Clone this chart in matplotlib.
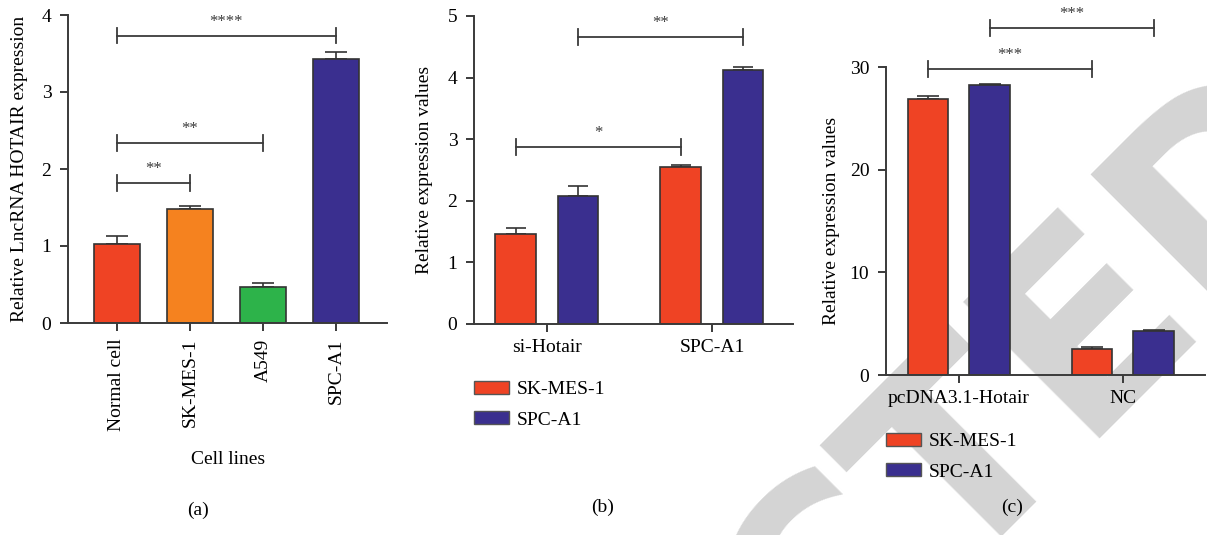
import numpy as np
import matplotlib
matplotlib.use("Agg")
import matplotlib.pyplot as plt
from matplotlib.patches import Patch

# ---- data ----
cell_lines = ["Normal cell", "SK-MES-1", "A549", "SPC-A1"]
cell_expr = [1.03, 1.48, 0.47, 3.43]
cell_err = [0.10, 0.04, 0.05, 0.09]

b_groups = ["si-Hotair", "SPC-A1"]
b_skmes = [1.46, 2.55]
b_skmes_err = [0.10, 0.03]
b_spca1 = [2.08, 4.13]
b_spca1_err = [0.16, 0.04]

c_groups = ["pcDNA3.1-Hotair", "NC"]
c_skmes = [26.9, 2.55]
c_skmes_err = [0.25, 0.15]
c_spca1 = [28.2, 4.3]
c_spca1_err = [0.10, 0.10]

series_names = ["SK-MES-1", "SPC-A1"]

RED = "#ef4324"
ORANGE = "#f5821f"
GREEN = "#2db34a"
BLUE = "#3a2f8f"
EDGE = "#333333"
DARK = "#3a3a3a"

plt.rcParams["font.family"] = ["Liberation Serif", "DejaVu Serif"]
plt.rcParams["font.size"] = 14

W, H = 1207, 535
fig = plt.figure(figsize=(W / 100, H / 100), dpi=100)

# watermark behind everything
fig.text(126 / W, (H - 1388) / H, "RETRACTED", fontsize=190, family="DejaVu Sans",
         weight="bold", color="#d4d4d4", rotation=45, rotation_mode="anchor",
         ha="left", va="baseline", zorder=-5)


def px_axes(left, right, y0, ytop):
    return fig.add_axes([left / W, (H - y0) / H, (right - left) / W, (y0 - ytop) / H])


def style(ax):
    ax.patch.set_alpha(0)
    for s in ["top", "right"]:
        ax.spines[s].set_visible(False)
    for s in ["left", "bottom"]:
        ax.spines[s].set_color(DARK)
        ax.spines[s].set_linewidth(1.4)
    ax.tick_params(direction="out", length=6, width=1.4, color=DARK, labelsize=14, pad=5)
    ax.tick_params(axis="y", pad=6)


def bracket(ax, x1, x2, y, h, stars):
    ax.plot([x1, x2], [y, y], color=DARK, lw=1.3, clip_on=False)
    for x in (x1, x2):
        ax.plot([x, x], [y - h, y + h], color=DARK, lw=1.3, clip_on=False)
    ax.annotate(stars, xy=((x1 + x2) / 2, y), xytext=(0, 10), textcoords="offset points",
                ha="center", va="center", fontsize=12, color=DARK, annotation_clip=False)


def bars(ax, x, vals, errs, colors, width, cap):
    ax.bar(x, vals, width=width, color=colors, edgecolor=EDGE, linewidth=1.2, zorder=2)
    ax.errorbar(x, vals, yerr=[np.zeros(len(vals)), errs], fmt="none", ecolor=EDGE,
                elinewidth=1.2, capsize=cap, capthick=1.2, zorder=1)


# ---- panel (a) ----
ax1 = px_axes(68, 387, 323, 15)
style(ax1)
xa = np.arange(len(cell_lines))
bars(ax1, xa, cell_expr, cell_err, [RED, ORANGE, GREEN, BLUE], 0.64, 8)
ax1.set_xlim(-0.67, 3.7)
ax1.set_ylim(0, 4)
ax1.set_yticks([0, 1, 2, 3, 4])
ax1.set_xticks(xa)
ax1.set_xticklabels(cell_lines, rotation=90)
bracket(ax1, 0, 1, 1.82, 0.1, "**")
bracket(ax1, 0, 2, 2.34, 0.1, "**")
bracket(ax1, 0, 3, 3.73, 0.1, "****")
fig.text(20 / W, 1 - 169 / H, "Relative LncRNA HOTAIR expression", rotation=90,
         ha="center", va="center", fontsize=14)
fig.text(228 / W, 1 - 459 / H, "Cell lines", ha="center", va="center", fontsize=14)
fig.text(198 / W, 1 - 510 / H, "(a)", ha="center", va="center", fontsize=14)

# ---- panel (b) ----
ax2 = px_axes(474, 793, 324, 16)
style(ax2)
xb = np.arange(len(b_groups))
off, bw = 0.188, 0.248
bars(ax2, xb - off, b_skmes, b_skmes_err, RED, bw, 7)
bars(ax2, xb + off, b_spca1, b_spca1_err, BLUE, bw, 7)
ax2.set_xlim(-0.442, 1.491)
ax2.set_ylim(0, 5)
ax2.set_yticks([0, 1, 2, 3, 4, 5])
ax2.set_xticks(xb)
ax2.set_xticklabels(b_groups)
bracket(ax2, 0 - off, 1 - off, 2.87, 0.13, "*")
bracket(ax2, 0 + off, 1 + off, 4.66, 0.13, "**")
fig.text(425 / W, 1 - 170 / H, "Relative expression values", rotation=90,
         ha="center", va="center", fontsize=14)
fig.text(603 / W, 1 - 507 / H, "(b)", ha="center", va="center", fontsize=14)

handles = [Patch(facecolor=RED, edgecolor="#555555", lw=1),
           Patch(facecolor=BLUE, edgecolor="#555555", lw=1)]
leg_kw = dict(frameon=False, handlelength=1.8, handleheight=0.62, handletextpad=0.4,
              labelspacing=0.68, borderpad=0, borderaxespad=0, fontsize=14, loc="upper left")
fig.legend(handles, series_names, bbox_to_anchor=(474 / W, 1 - 381 / H), **leg_kw)

# ---- panel (c) ----
ax3 = px_axes(886, 1205, 375, 67)
style(ax3)
xc = np.arange(len(c_groups))
bars(ax3, xc - off, c_skmes, c_skmes_err, RED, bw, 8)
bars(ax3, xc + off, c_spca1, c_spca1_err, BLUE, bw, 8)
ax3.set_xlim(-0.445, 1.5)
ax3.set_ylim(0, 30)
ax3.set_yticks([0, 10, 20, 30])
ax3.set_xticks(xc)
ax3.set_xticklabels(c_groups)
bracket(ax3, 0 - off, 1 - off, 29.8, 0.8, "***")
bracket(ax3, 0 + off, 1 + off, 33.8, 0.8, "***")
fig.text(832 / W, 1 - 221 / H, "Relative expression values", rotation=90,
         ha="center", va="center", fontsize=14)
fig.text(1012 / W, 1 - 507 / H, "(c)", ha="center", va="center", fontsize=14)
fig.legend(handles, series_names, bbox_to_anchor=(886 / W, 1 - 433 / H), **leg_kw)

fig.savefig("out.png", dpi=100)
